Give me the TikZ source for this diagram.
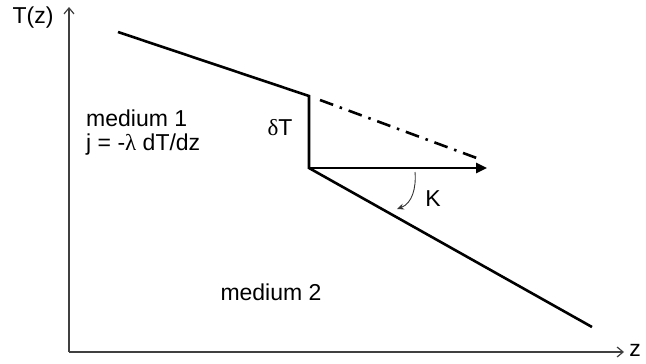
\documentclass[tikz,border=0pt]{standalone}
\usepackage{fontspec}
\setmainfont{Liberation Sans}
\newfontfamily\greekfont{Liberation Serif}
\usetikzlibrary{arrows.meta}

\begin{document}
\begin{tikzpicture}[x=1pt, y=-1pt, every node/.style={font=\fontsize{23}{26}\selectfont, inner sep=0pt},
    axis/.style={line width=1.2pt, draw=black!75, -{Straight Barb[length=6pt, width=10pt]}},
    profile/.style={line width=2.6pt, line join=miter},
    extrap/.style={line width=2.6pt, dash pattern=on 14pt off 7pt on 2.5pt off 7pt}]
    \useasboundingbox (0,0) rectangle (646,364);

    % axes
    \coordinate (o) at (69,352);
    \coordinate (ytop) at (69,7);
    \coordinate (xend) at (624,352);
    \draw[axis] (o) -- (ytop);
    \draw[axis] (o) -- (xend);
    \node (tz) at (33,18) {T(z)};
    \node (zl) at (635,350) {z};

    % temperature profile
    \coordinate (a) at (118,32);
    \coordinate (b) at (309,96);
    \coordinate (c) at (309,168);
    \coordinate (d) at (592,327);
    \coordinate (e) at (320,100);
    \coordinate (f) at (482,160);
    \coordinate (g) at (487,168);
    \draw[profile] (a) -- (b) -- (c) -- (d);
    \draw[extrap] (e) -- (f);
    \draw[line width=2.6pt, -{Triangle[length=11pt, width=10pt]}] (c) -- (g);

    % angle arrow
    \coordinate (k1) at (415,172);
    \coordinate (k2) at (397,209);
    \draw[line width=0.9pt, draw=black!80, -{Stealth[length=7pt, width=6pt]}] (k1) to[out=-85, in=20] (k2);
    \node (kl) at (433,199) {K};

    % labels
    \node (dt) at (280,128) {{\greekfont δ}T};
    \node[anchor=west, align=left] (m1) at (86,133) {medium 1\\[-2pt]j = -{\greekfont λ} dT/dz};
    \node (m2) at (271,292) {medium 2};
\end{tikzpicture}
\end{document}
